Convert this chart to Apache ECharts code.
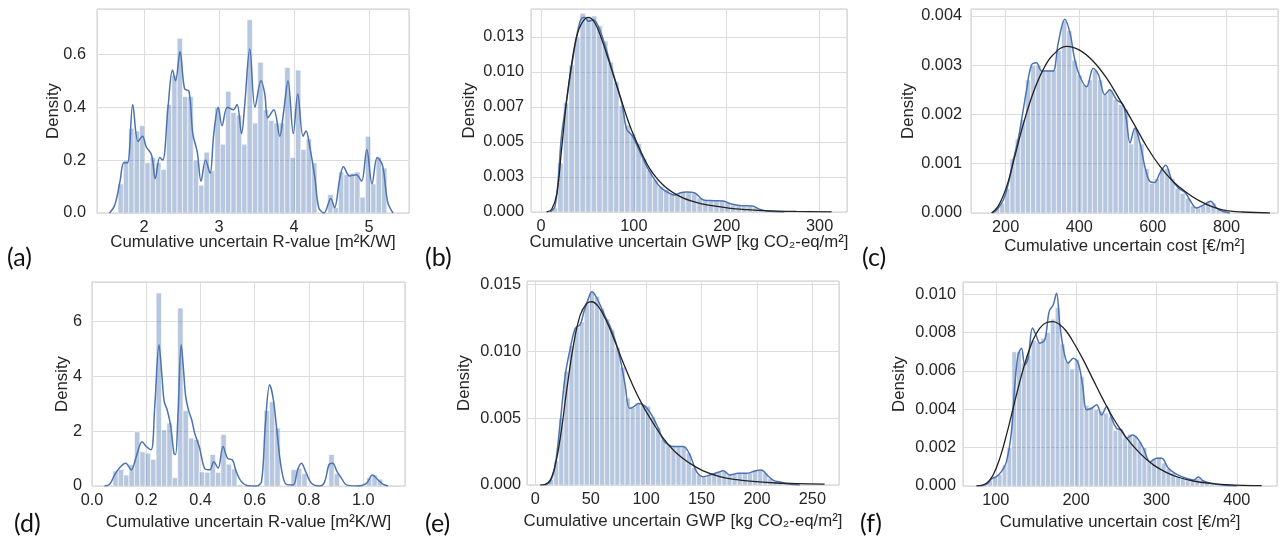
<!DOCTYPE html>
<html><head><meta charset="utf-8">
<script src="https://cdn.jsdelivr.net/npm/echarts@6/dist/echarts.min.js"></script>
<style>html,body{margin:0;padding:0;background:#fff}#c{width:1287px;height:543px}</style>
</head><body><div id="c"></div>
<script>
// ---------- DATA ----------
// (a) R-value, ground floor
const aBinStart = 1.653, aBinWidth = 0.0717;
const aHist = [0.11,0.20,0.32,0.31,0.33,0.19,0.21,0.19,0.165,0.41,0.52,0.66,0.44,0.44,0.20,0.105,0.23,0.16,0.40,0.26,0.46,0.38,0.37,0.26,0.73,0.34,0.57,0.39,0.35,0.34,0.34,0.55,0.21,0.54,0.24,0.28,0.19,0,0,0.07,0.02,0.155,0.145,0.15,0.155,0.06,0.29,0.11,0.21,0.17];
const aKde = [[1.54,0],[1.61,0.03],[1.68,0.12],[1.73,0.19],[1.78,0.19],[1.85,0.41],[1.92,0.27],[1.98,0.29],[2.03,0.25],[2.10,0.22],[2.15,0.13],[2.21,0.21],[2.25,0.20],[2.32,0.40],[2.38,0.54],[2.42,0.50],[2.48,0.61],[2.54,0.47],[2.60,0.46],[2.65,0.30],[2.71,0.23],[2.76,0.12],[2.82,0.20],[2.88,0.15],[2.93,0.30],[2.99,0.40],[3.04,0.33],[3.11,0.40],[3.19,0.39],[3.24,0.41],[3.30,0.30],[3.34,0.40],[3.41,0.62],[3.48,0.40],[3.56,0.50],[3.61,0.45],[3.65,0.36],[3.73,0.39],[3.81,0.29],[3.86,0.38],[3.92,0.50],[3.99,0.30],[4.05,0.45],[4.12,0.29],[4.16,0.31],[4.21,0.25],[4.28,0.13],[4.33,0.02],[4.40,0],[4.49,0.055],[4.54,0.02],[4.61,0.13],[4.66,0.175],[4.74,0.14],[4.83,0.145],[4.90,0.12],[4.97,0.24],[5.04,0.11],[5.11,0.21],[5.18,0.18],[5.25,0.04],[5.32,0]];

// (b) GWP
const bBinStart = 12, bBinWidth = 6;
const bHist = [0.0003,0.0035,0.0078,0.0105,0.0125,0.0142,0.0139,0.0140,0.0133,0.0122,0.0107,0.0093,0.0076,0.0062,0.0056,0.0049,0.0038,0.0030,0.0023,0.0018,0.0016,0.0013,0.0013,0.0014,0.0014,0.0013,0.0010,0.0008,0.0008,0.0008,0.0008,0.0007,0.0005,0.0005,0.0004,0.0004,0.0003,0.0002,0.0001,0.00005,0.00002,0.00001,0.00001,0,0,0,0.00001,0,0,0.00001];
const bKde = [[10,0],[15,0.0004],[18.7,0.0025],[22,0.0054],[27.6,0.008],[33,0.0104],[38.4,0.01255],[43.8,0.01386],[47.4,0.0139],[51,0.01362],[56.4,0.01374],[61.8,0.01326],[67,0.0123],[72.5,0.0111],[79.7,0.00945],[86.9,0.0078],[92.3,0.0059],[97.7,0.0055],[104.8,0.00456],[112,0.0035],[119,0.00265],[128,0.0018],[137,0.00138],[144,0.0012],[150,0.00138],[157,0.00143],[166,0.00134],[175,0.00086],[186,0.00081],[196,0.00079],[205,0.00057],[216,0.00045],[227,0.00043],[236,0.00019],[243,0.00007],[250,0.00003],[262,0]];
const bFit = [[6,0],[11.5,0.0002],[17,0.0013],[22,0.0044],[27.6,0.008],[33,0.0106],[38.4,0.01255],[44,0.0135],[51,0.0139],[58,0.0135],[65,0.0124],[74,0.0106],[85,0.0083],[96,0.0061],[107,0.0044],[117,0.0031],[132,0.0019],[150,0.0011],[168,0.00067],[186,0.00043],[204,0.00026],[222,0.00017],[240,0.0001],[275,0.00004],[313,0.00001]];
const bYLabels = ['0.000','0.003','0.005','0.007','0.010','0.013'];

// (c) cost
const cBinStart = 170, cBinWidth = 14;
const cHist = [0.0001,0.0002,0.0005,0.0011,0.0015,0.0019,0.0027,0.0030,0.0030,0.0029,0.0029,0.0029,0.0033,0.0039,0.0037,0.0031,0.0028,0.0026,0.0027,0.0029,0.0027,0.0024,0.0025,0.0023,0.0022,0.0021,0.0014,0.0017,0.0014,0.0009,0.0006,0.0007,0.0009,0.0009,0.0007,0.0005,0.0004,0.0003,0.00015,0.0001,0.00015,0.00022,0.0002,0.00008,0.00003,0.00001,0,0,0,0.00001];
const cKde = [[166,0],[180,0.0001],[194,0.00027],[207,0.00058],[221,0.00108],[234,0.00149],[248,0.0021],[257,0.0025],[270,0.003],[284,0.00305],[298,0.00288],[316,0.00288],[329,0.00288],[343,0.00345],[361,0.00393],[375,0.00365],[388,0.00311],[402,0.00277],[420,0.00256],[438,0.00294],[452,0.00281],[470,0.0024],[483,0.0025],[501,0.0023],[519,0.0022],[528,0.0019],[538,0.00142],[551,0.00172],[565,0.00142],[578,0.00095],[592,0.00064],[605,0.00062],[619,0.00081],[635,0.00097],[651,0.00068],[669,0.00051],[687,0.00042],[700,0.00027],[719,0.0001],[737,0.00016],[757,0.00024],[773,0.0001],[791,0.00003],[809,0]];
const cFit = [[162,0],[180,0.00014],[203,0.00054],[225,0.00115],[248,0.0018],[275,0.00244],[302,0.00291],[329,0.00321],[366,0.00338],[402,0.0033],[438,0.00308],[474,0.00274],[510,0.0023],[547,0.00183],[583,0.00135],[619,0.00095],[655,0.00064],[692,0.00041],[728,0.00024],[764,0.00012],[800,0.00005],[845,0.00002],[918,0]];

// (d) R-value
const dBinStart = 0.077, dBinWidth = 0.0199;
const dHist = [0.55,0.60,0.40,0.77,1.98,1.25,1.20,0.97,7.05,2.05,2.30,0.30,6.50,2.75,1.75,1.70,0.52,0.50,1.15,0.50,1.88,0.80,0.62,0.05,0,0,0,0,2.75,3.08,2.12,0,0,0.60,0.65,0.45,0,0,0,0,1.15,0.45,0,0,0,0,0,0.30,0.40,0.25];
const dKde = [[0.046,0],[0.065,0.06],[0.083,0.4],[0.102,0.67],[0.124,0.83],[0.145,0.59],[0.163,1.07],[0.185,1.62],[0.2,1.44],[0.218,1.32],[0.231,2.84],[0.247,5.16],[0.258,4.0],[0.266,3.1],[0.278,2.75],[0.29,2.2],[0.302,1.2],[0.308,1.15],[0.317,2.6],[0.329,5.16],[0.337,4.3],[0.345,3.3],[0.355,2.8],[0.368,2.4],[0.378,1.95],[0.397,1.38],[0.415,0.65],[0.434,0.59],[0.449,0.89],[0.465,0.65],[0.483,1.44],[0.5,1.01],[0.518,0.95],[0.532,0.52],[0.551,0.16],[0.575,0.01],[0.606,0],[0.625,0.16],[0.639,2.23],[0.655,3.7],[0.668,3.2],[0.682,1.99],[0.698,0.65],[0.717,0.06],[0.742,0.04],[0.758,0.59],[0.772,0.83],[0.788,0.52],[0.809,0.1],[0.84,0],[0.858,0.16],[0.874,0.79],[0.887,0.83],[0.904,0.52],[0.92,0.28],[0.938,0.04],[0.975,0],[1.012,0.1],[1.034,0.4],[1.055,0.22],[1.074,0.06],[1.092,0]];

// (e) GWP
const eBinStart = 12, eBinWidth = 4.6;
const eHist = [0.0004,0.0018,0.0050,0.0085,0.0104,0.0118,0.0122,0.0136,0.0144,0.0141,0.0132,0.0124,0.0116,0.0103,0.0088,0.0065,0.0058,0.0061,0.0060,0.0059,0.0051,0.0043,0.0034,0.0030,0.0029,0.0029,0.0029,0.0024,0.0013,0.0008,0.0006,0.0007,0.0009,0.0010,0.0010,0.0008,0.0008,0.0009,0.0009,0.0009,0.0011,0.0011,0.0009,0.0005,0.0003,0.0002,0.0001,0.00005,0.00003,0.00002];
const eKde = [[9,0],[13.5,0.00025],[18,0.0015],[22.5,0.0047],[27,0.0082],[31.5,0.0102],[36,0.0117],[40.5,0.012],[44,0.013],[48,0.01395],[51,0.01445],[54,0.0142],[58.5,0.01345],[63,0.0126],[67.5,0.01184],[72,0.01084],[76.5,0.00947],[81,0.00748],[85,0.00573],[89,0.00586],[93,0.0061],[99,0.0059],[105,0.00523],[111,0.00424],[115.5,0.00336],[120,0.003],[126,0.00287],[133.5,0.00287],[139.5,0.00224],[145.5,0.001],[151.5,0.00062],[157.5,0.00075],[165,0.00095],[169.5,0.00107],[175.5,0.00075],[183,0.00087],[190.5,0.00087],[198,0.00105],[204,0.00112],[209,0.00075],[214.5,0.00037],[222,0.0002],[229.5,0.00007],[238.5,0]];
const eFit = [[4.5,0],[9,0.00005],[13.5,0.00037],[18,0.0015],[22.5,0.0035],[28.5,0.0072],[34.5,0.0105],[40.5,0.0127],[46.5,0.01358],[51,0.0137],[57,0.01333],[64.5,0.0122],[72,0.0107],[79.5,0.0091],[88.5,0.00735],[97.5,0.00586],[106.5,0.00461],[115.5,0.00349],[127.5,0.00237],[139.5,0.00162],[151.5,0.00105],[166.5,0.00062],[181.5,0.0004],[199.5,0.00025],[217.5,0.00015],[235.5,0.0001],[261,0.00007]];

// (f) cost
const fBinStart = 90, fBinWidth = 6;
const fHist = [0.0003,0.0005,0.0006,0.0011,0.0020,0.0070,0.0070,0.0064,0.0068,0.0076,0.0075,0.0077,0.0080,0.0087,0.0093,0.0074,0.0065,0.0061,0.0066,0.0057,0.0042,0.0041,0.0040,0.0039,0.0038,0.0036,0.0029,0.0030,0.0025,0.0027,0.0026,0.0023,0.0020,0.0013,0.0014,0.0015,0.0012,0.0009,0.0007,0.0005,0.0004,0.0004,0.0003,0.0004,0.0003,0.00015,0.0001,0.00005,0.00003,0.00002];
const fKde = [[80,0],[88.4,0.00009],[94.6,0.00037],[100.8,0.00049],[107,0.00075],[113.3,0.00127],[119.5,0.00283],[123.7,0.00527],[127.8,0.00683],[132,0.00718],[136.1,0.0063],[140.3,0.00665],[145.7,0.00823],[150.7,0.00779],[154.8,0.00744],[161,0.00762],[166.5,0.0091],[171.5,0.00944],[175.6,0.01005],[179.8,0.0084],[184.8,0.007],[190.2,0.0064],[196.4,0.00666],[202.6,0.0064],[208,0.00527],[213,0.00397],[219.3,0.00405],[225.5,0.00423],[231.7,0.0037],[238,0.00414],[244.2,0.00353],[250.4,0.003],[256.6,0.00292],[262.9,0.00249],[270.4,0.00266],[276.2,0.00249],[283.7,0.00197],[292,0.00127],[300.3,0.00144],[306.5,0.00144],[314.8,0.00092],[323.1,0.00066],[331.4,0.00049],[339.8,0.00037],[346,0.00031],[352.2,0.00047],[358.4,0.00026],[368.8,0.00014],[381.3,0.00005],[391.7,0.00002],[400,0]];
const fFit = [[75.9,0],[88.4,0.00014],[96.7,0.00057],[105,0.00144],[113.3,0.00266],[121.6,0.00405],[129.9,0.00544],[138.2,0.00666],[146.5,0.00762],[154.8,0.00823],[163.2,0.00852],[171.5,0.00857],[179.8,0.0084],[188.1,0.00805],[198.5,0.00736],[208.9,0.00657],[221.3,0.00553],[233.8,0.00449],[246.3,0.00353],[262.9,0.00249],[279.5,0.0017],[296.1,0.0011],[312.7,0.0007],[329.3,0.00043],[346,0.00026],[366.7,0.00014],[387.5,0.00007],[408.3,0.00003],[431,0.00002]];

const xNames = ['Cumulative uncertain R-value [m²K/W]','Cumulative uncertain GWP [kg CO₂-eq/m²]','Cumulative uncertain cost [€/m²]'];
const panelLabels = ['(a)','(b)','(c)','(d)','(e)','(f)'];

// ---------- LAYOUT / STYLE ----------
const FONT = '"Liberation Sans", Arial, sans-serif';
const TXT = '#262626';
const TICK_FS = 16.3, NAME_FS = 16.8;
function stepFmt(step, dec) {
  return function (v) {
    const k = Math.round(v / step);
    if (Math.abs(v - k * step) > step * 1e-6) return '';
    return (k * step).toFixed(dec);
  };
}
const panels = [
  {g:{left:97,top:9,width:312,height:204}, x:{min:1.373,max:5.533,split:4,fmt:stepFmt(1,0)}, y:{max:0.771,interval:0.2,fmt:stepFmt(0.2,1)},
   hist:[aBinStart,aBinWidth,aHist], kde:aKde, fit:null, xname:xNames[0], xGap:21, yGap:35.5, yMargin:11},
  {g:{left:531,top:9,width:316,height:203}, x:{min:-10.8,max:329.5,split:4,fmt:stepFmt(100,0)}, y:{max:0.0145,interval:0.0025,fmt:function(v){const k=Math.round(v/0.0025);return Math.abs(v-k*0.0025)<1e-9?bYLabels[k]:'';}},
   hist:[bBinStart,bBinWidth,bHist], kde:bKde, fit:bFit, xname:xNames[1], xGap:22, yGap:53.5, yMargin:7},
  {g:{left:971,top:9,width:307,height:204}, x:{min:106,max:940,split:4,fmt:stepFmt(200,0)}, y:{max:0.00414,interval:0.001,fmt:stepFmt(0.001,3)},
   hist:[cBinStart,cBinWidth,cHist], kde:cKde, fit:cFit, xname:xNames[2], xGap:25, yGap:54.5, yMargin:9},
  {g:{left:92,top:282,width:313,height:204}, x:{min:0,max:1.154,interval:0.2,fmt:stepFmt(0.2,1)}, y:{max:7.45,interval:2,fmt:stepFmt(2,0)},
   hist:[dBinStart,dBinWidth,dHist], kde:dKde, fit:null, xname:xNames[0], xGap:28, yGap:21.5, yMargin:10},
  {g:{left:527,top:281,width:312,height:204}, x:{min:-7.5,max:274,split:5,fmt:stepFmt(50,0)}, y:{max:0.01525,interval:0.005,fmt:stepFmt(0.005,3)},
   hist:[eBinStart,eBinWidth,eHist], kde:eKde, fit:eFit, xname:xNames[1], xGap:27.5, yGap:54, yMargin:6},
  {g:{left:963,top:282,width:314,height:204}, x:{min:59.2,max:450,split:4,fmt:stepFmt(100,0)}, y:{max:0.01063,interval:0.002,fmt:stepFmt(0.002,3)},
   hist:[fBinStart,fBinWidth,fHist], kde:fKde, fit:fFit, xname:xNames[2], xGap:28, yGap:55, yMargin:7}
];
const labelPos = [[7,258],[425,258],[862,258],[14,524],[425,524],[860,524]];

const grid = [], xAxis = [], yAxis = [], series = [];
panels.forEach(function (p, i) {
  grid.push(Object.assign({show:true, borderColor:'#cccccc', borderWidth:1, backgroundColor:'#fff', containLabel:false}, p.g));
  const xa = {type:'value', gridIndex:i, min:p.x.min, max:p.x.max,
    name:p.xname, nameLocation:'middle', nameGap:p.xGap, nameMoveOverlap:false,
    nameTextStyle:{fontFamily:FONT, fontSize:NAME_FS, color:TXT},
    axisLine:{show:false}, axisTick:{show:false},
    axisLabel:{fontFamily:FONT, fontSize:TICK_FS, color:TXT, margin:7, formatter:p.x.fmt},
    splitLine:{show:true, lineStyle:{color:'#dcdcdc', width:1}}};
  if (p.x.interval) xa.interval = p.x.interval; else xa.splitNumber = p.x.split;
  xAxis.push(xa);
  yAxis.push({type:'value', gridIndex:i, min:0, max:p.y.max, interval:p.y.interval,
    name:'Density', nameLocation:'middle', nameGap:p.yGap, nameRotate:90, nameMoveOverlap:false,
    nameTextStyle:{fontFamily:FONT, fontSize:NAME_FS, color:TXT},
    axisLine:{show:false}, axisTick:{show:false},
    axisLabel:{fontFamily:FONT, fontSize:TICK_FS, color:TXT, margin:p.yMargin, formatter:p.y.fmt},
    splitLine:{show:true, lineStyle:{color:'#dcdcdc', width:1}}});
  const hs = p.hist[0], hw = p.hist[1];
  series.push({type:'custom', xAxisIndex:i, yAxisIndex:i, clip:true, z:2,
    data:p.hist[2].map(function (h, k) { return [hs + k*hw, hs + (k+1)*hw, h]; }),
    encode:{x:[0,1], y:2},
    renderItem:function (params, api) {
      const p0 = api.coord([api.value(0), api.value(2)]);
      const p1 = api.coord([api.value(1), 0]);
      return {type:'rect', shape:{x:p0[0], y:p0[1], width:p1[0]-p0[0], height:p1[1]-p0[1]},
        style:{fill:'rgba(76,114,176,0.4)', stroke:'rgba(255,255,255,0.9)', lineWidth:0.7}};
    }});
  series.push({type:'line', xAxisIndex:i, yAxisIndex:i, data:p.kde, smooth:0.35, showSymbol:false, symbol:'none', z:3,
    lineStyle:{color:'#4C72B0', width:1.5}});
  if (p.fit) series.push({type:'line', xAxisIndex:i, yAxisIndex:i, data:p.fit, smooth:0.4, showSymbol:false, symbol:'none', z:4,
    lineStyle:{color:'#222222', width:1.3}});
});

const graphic = panelLabels.map(function (t, i) {
  return {type:'text', x:labelPos[i][0], y:labelPos[i][1],
    style:{text:t, fontFamily:'Lato, "Open Sans", sans-serif', fontSize:25, fill:'#111', verticalAlign:'middle', textAlign:'left'}};
});

const chart = echarts.init(document.getElementById('c'), null, {renderer:'canvas'});
chart.setOption({animation:false, backgroundColor:'#fff', grid:grid, xAxis:xAxis, yAxis:yAxis, series:series, graphic:graphic});
</script></body></html>
